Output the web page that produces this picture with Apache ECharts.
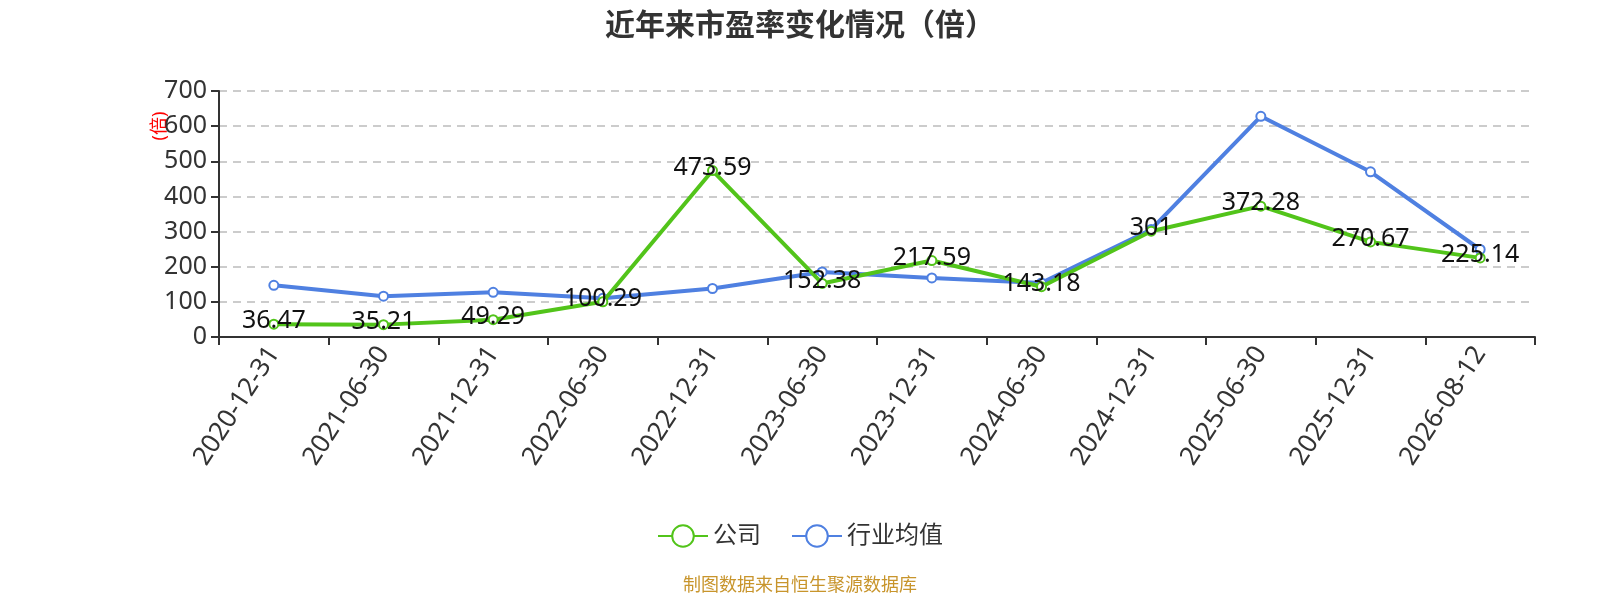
<!DOCTYPE html>
<html>
<head>
<meta charset="utf-8">
<script src="https://cdn.jsdelivr.net/npm/echarts@6/dist/echarts.min.js"></script>
<style>
  html, body { margin: 0; padding: 0; background: #fff; }
  #main { width: 1600px; height: 600px; }
</style>
</head>
<body>
<div id="main"></div>
<script>
// 报告期
var dates = ['2020-12-31', '2021-06-30', '2021-12-31', '2022-06-30', '2022-12-31', '2023-06-30',
	'2023-12-31', '2024-06-30', '2024-12-31', '2025-06-30', '2025-12-31', '2026-08-12'];
// 公司市盈率
var companyPE = [36.47, 35.21, 49.29, 100.29, 473.59, 152.38, 217.59, 143.18, 301, 372.28, 270.67, 225.14];
// 行业均值
var industryPE = [147, 116, 127, 110, 138, 185, 168, 154, 306, 628, 470, 249];
var yTicks = [0, 700, 100];

var font = '"Noto Sans", "Noto Sans CJK SC", sans-serif';
var chart = echarts.init(document.getElementById('main'));

var option = {
	backgroundColor: '#fff',
	title: [
		{
			text: '近年来市盈率变化情况（倍）',
			left: 'center',
			top: 6,
			textStyle: { fontSize: 30, fontWeight: 'bold', color: '#333', fontFamily: font }
		},
		{
			text: '制图数据来自恒生聚源数据库',
			left: 'center',
			bottom: 0,
			textStyle: { fontSize: 18, fontWeight: 'normal', color: '#c8952c', fontFamily: font }
		}
	],
	legend: {
		bottom: 47,
		left: 'center',
		itemWidth: 50,
		itemHeight: 27,
		itemGap: 30,
		textStyle: { fontSize: 24, color: '#333', fontFamily: font },
		data: ['公司', '行业均值']
	},
	grid: { left: 219, right: 65, top: 91, bottom: 263 },
	xAxis: {
		type: 'category',
		data: dates,
		boundaryGap: true,
		axisLine: { lineStyle: { color: '#333', width: 2 } },
		axisTick: { show: true, length: 8, lineStyle: { color: '#333', width: 2 } },
		axisLabel: { rotate: 57, fontSize: 26, color: '#333', fontFamily: font, margin: 12 }
	},
	yAxis: {
		type: 'value',
		min: yTicks[0],
		max: yTicks[1],
		interval: yTicks[2],
		name: '(倍)',
		nameLocation: 'middle',
		nameGap: 50,
		nameMoveOverlap: false,
		nameTextStyle: { color: '#f00', fontSize: 18, fontFamily: font, padding: [0, 0, 0, 176] },
		axisLine: { show: true, lineStyle: { color: '#333', width: 2 } },
		axisTick: { show: true, length: 8, lineStyle: { color: '#333', width: 2 } },
		axisLabel: { fontSize: 25, color: '#333', fontFamily: font, margin: 12 },
		splitLine: { lineStyle: { type: [8, 6], color: '#ccc', width: 2 } }
	},
	series: [
		{
			name: '公司',
			type: 'line',
			data: companyPE,
			symbol: 'emptyCircle',
			symbolSize: 9,
			color: '#52c41a',
			lineStyle: { width: 4 },
			label: {
				show: true,
				position: 'inside',
				offset: [0, -3],
				fontSize: 25,
				color: '#111',
				fontFamily: font
			},
			z: 3
		},
		{
			name: '行业均值',
			type: 'line',
			data: industryPE,
			symbol: 'emptyCircle',
			symbolSize: 9,
			color: '#4f80e1',
			lineStyle: { width: 4 },
			z: 2
		}
	]
};

chart.setOption(option);
</script>
</body>
</html>
